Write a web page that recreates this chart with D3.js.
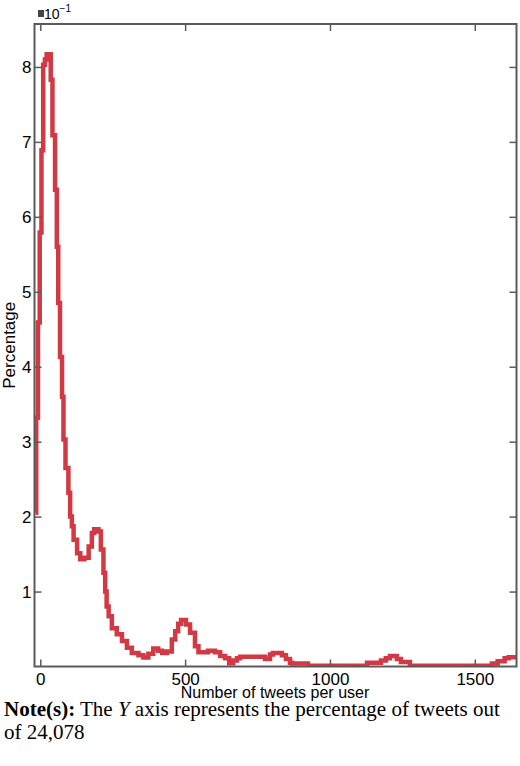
<!DOCTYPE html>
<html>
<head>
<meta charset="utf-8">
<script src="https://cdn.jsdelivr.net/npm/d3@7"></script>
<style>
  body { margin: 0; background: #fff; }
  svg { display: block; }
</style>
</head>
<body>
<div id="chart"></div>
<script>
// Tweets-per-user distribution (stepped curve)
const tweets = [-16, -14, -8, -2, 4, 10, 16, 22, 36, 42, 51, 57, 62, 68, 75, 80, 87, 97, 103,
  109, 115, 127, 138, 152, 167, 178, 186, 201, 209, 218, 224, 229, 236, 247, 264, 282, 299, 316,
  339, 356, 373, 390, 407, 421, 437, 454, 466, 476, 486, 503, 517, 534, 546, 579, 603, 621, 638,
  652, 666, 679, 690, 776, 793, 803, 834, 848, 862, 869, 924, 1128, 1176, 1193, 1207, 1231, 1245,
  1276, 1559, 1579, 1603, 1617, 1644];
const percent = [2.05, 3.32, 4.59, 5.79, 6.89, 8.03, 8.10, 8.17, 7.83, 7.09, 6.36, 5.60, 4.85, 4.13, 3.60, 3.03, 2.65, 2.32, 2.00,
  1.87, 1.69, 1.51, 1.43, 1.45, 1.60, 1.78, 1.83, 1.80, 1.56, 1.25, 1.00, 0.80, 0.67, 0.51, 0.43, 0.34, 0.25, 0.18,
  0.15, 0.12, 0.17, 0.24, 0.21, 0.18, 0.20, 0.36, 0.47, 0.57, 0.62, 0.56, 0.45, 0.27, 0.19, 0.21, 0.19, 0.14, 0.11,
  0.045, 0.08, 0.11, 0.13, 0.10, 0.16, 0.18, 0.15, 0.10, 0.05, 0.04, 0.01, 0.05, 0.08, 0.11, 0.14, 0.10, 0.06,
  0.01, 0.04, 0.07, 0.11, 0.125, 0.125];

const xTicks = [0, 500, 1000, 1500];
const yTicks = [1, 2, 3, 4, 5, 6, 7, 8];

const W = 520, H = 766;
const frame = { left: 34.5, right: 516.5, top: 24, bottom: 666.5 };
const lineColor = "#d13a44";
const axisColor = "#5a5a5a";
const sans = "Liberation Sans, Arial, sans-serif";

const svg = d3.select("#chart").append("svg")
  .attr("width", W)
  .attr("height", H)
  .attr("viewBox", [0, 0, W, H]);

const x = d3.scaleLinear().domain([-20, 1644]).range([frame.left, frame.right]);
const y = d3.scaleLinear().domain([0, 8.573]).range([frame.bottom, frame.top]);

const pts = tweets.map((t, i) => [t, percent[i]]);

svg.append("clipPath").attr("id", "plot-clip")
  .append("rect")
  .attr("x", frame.left)
  .attr("y", frame.top)
  .attr("width", frame.right - frame.left)
  .attr("height", frame.bottom - frame.top);

// Stepped curve
svg.append("path")
  .datum(pts)
  .attr("clip-path", "url(#plot-clip)")
  .attr("fill", "none")
  .attr("stroke", lineColor)
  .attr("stroke-width", 4.5)
  .attr("d", d3.line().x(d => x(d[0])).y(d => y(d[1])).curve(d3.curveStepAfter));

// Axes: inward ticks on all four sides, labels only bottom/left
const tickLen = 7;
const axStyle = g => {
  g.select(".domain").remove();
  g.selectAll(".tick line").attr("stroke", axisColor).attr("stroke-width", 1.5);
  g.selectAll(".tick text").attr("fill", "#000")
    .attr("font-family", sans).attr("font-size", 17);
};

svg.append("g")
  .attr("transform", `translate(0,${frame.bottom})`)
  .call(d3.axisBottom(x).tickValues(xTicks).tickFormat(d3.format("d"))
    .tickSizeInner(-tickLen).tickPadding(6))
  .call(axStyle);

svg.append("g")
  .attr("transform", `translate(0,${frame.top})`)
  .call(d3.axisTop(x).tickValues(xTicks).tickSizeInner(-tickLen).tickFormat(""))
  .call(axStyle);

svg.append("g")
  .attr("transform", `translate(${frame.left},0)`)
  .call(d3.axisLeft(y).tickValues(yTicks).tickSizeInner(-tickLen).tickPadding(3))
  .call(axStyle);

svg.append("g")
  .attr("transform", `translate(${frame.right},0)`)
  .call(d3.axisRight(y).tickValues(yTicks).tickSizeInner(-tickLen).tickFormat(""))
  .call(axStyle);

// Frame
svg.append("rect")
  .attr("x", frame.left)
  .attr("y", frame.top)
  .attr("width", frame.right - frame.left)
  .attr("height", frame.bottom - frame.top)
  .attr("fill", "none")
  .attr("stroke", axisColor)
  .attr("stroke-width", 2);

// Exponent marker
svg.append("rect")
  .attr("x", 38).attr("y", 10).attr("width", 6).attr("height", 7)
  .attr("fill", "#444");
const expo = svg.append("text")
  .attr("x", 44).attr("y", 19)
  .attr("font-family", sans)
  .attr("font-size", 14)
  .attr("fill", "#000");
expo.append("tspan").text("10");
expo.append("tspan").attr("dy", -7).attr("font-size", 10).text("\u22121");

// Axis titles
svg.append("text")
  .attr("transform", `translate(15,${(frame.top + frame.bottom) / 2}) rotate(-90)`)
  .attr("text-anchor", "middle")
  .attr("font-family", sans)
  .attr("font-size", 17)
  .text("Percentage");

svg.append("text")
  .attr("x", 275).attr("y", 698)
  .attr("text-anchor", "middle")
  .attr("font-family", sans)
  .attr("font-size", 16)
  .text("Number of tweets per user");

// Note
const note = svg.append("g")
  .attr("font-family", "Liberation Serif, Times New Roman, serif")
  .attr("font-size", 21)
  .attr("fill", "#000");
const l1 = note.append("text").attr("x", 4).attr("y", 716);
l1.append("tspan").attr("font-weight", "bold").text("Note(s):");
l1.append("tspan").text(" The ");
l1.append("tspan").attr("font-style", "italic").text("Y");
l1.append("tspan").text(" axis represents the percentage of tweets out");
note.append("text").attr("x", 4).attr("y", 739).text("of 24,078");
</script>
</body>
</html>
